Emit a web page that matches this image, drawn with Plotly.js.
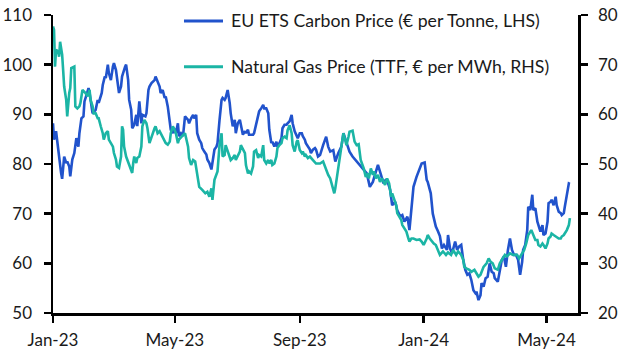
<!DOCTYPE html>
<html>
<head>
<meta charset="utf-8">
<script src="https://cdn.plot.ly/plotly-3.0.1.min.js"></script>
<style>html,body{margin:0;padding:0;background:#fff;}#chart{width:635px;height:361px;}</style>
</head>
<body>
<div id="chart"></div>
<script>
// Days since 2023-01-01 and values
const carbonDays = [0,1,3,5,8,9,11,13,14,16,17,19,21,23,25,26,28,30,31,33,35,36,38,39,42,44,45,48,49,51,
  52,54,55,57,59,60,62,63,65,67,68,71,72,74,75,77,78,80,82,83,85,87,88,91,92,94,95,97,100,101,
  103,105,106,108,110,111,113,115,116,118,119,121,123,124,126,128,130,133,134,136,138,139,141,142,144,146,147,149,151,152,
  154,156,157,159,161,162,164,166,167,169,170,172,174,175,177,179,180,182,184,185,187,189,190,192,193,195,197,198,200,202,
  203,205,207,208,210,212,213,215,216,218,220,221,223,225,226,228,230,231,233,235,236,238,240,241,243,245,246,248,249,251,
  253,254,256,258,259,261,263,266,269,271,273,276,278,281,284,286,289,292,295,299,302,305,309,312,315,317,320,323,325,328,
  330,332,334,337,339,342,344,346,349,351,353,355,358,361,363,366,368,369,372,374,377,379,381,383,385,388,389,391,393,396,
  398,400,402,404,406,408,410,412,414,416,417,419,421,422,424,426,428,430,432,434,435,438,440,442,444,446,448,450,452,454,
  456,458,460,462,463,465,467,468,470,472,473,475,477,478,480,482,483,485,487,488,490,491,493,495,496,498,500,501,503,504,
  506,508,509];
const carbonPrice = [88.2,84.9,86.6,82.9,78.2,77.0,81.5,80.2,80.5,79.5,77.5,80.9,82.2,85.2,83.5,86.2,89.2,89.6,92.6,93.9,95.3,94.3,91.9,90.2,90.9,92.9,92.3,94.3,95.9,97.6,
  97.3,100,98.3,96.9,99.6,100.3,98.9,96.9,94.3,95.6,97.6,99.6,100,96.9,92.9,90.9,87.2,87.9,89.9,87.6,92.6,88.2,89.9,89.6,90.2,94.9,95.6,96.3,96.9,97.6,
  96.6,95.6,94.3,94.9,93.3,93.6,91.6,88.2,86.9,86.2,87.2,86.2,88.2,85.6,86.2,85.6,89.6,88.9,88.2,89.2,89.9,89.2,89.9,86.2,84.9,84.2,83.2,82.5,81.9,80.9,
  80.2,78.9,80.2,82.9,83.5,84.2,88.9,92.9,93.3,92.9,93.3,94.9,92.3,90.2,87.6,88.9,86.2,88.2,88.9,87.6,85.9,86.6,86.2,86.9,85.9,85.9,85.9,86.2,88.2,89.6,
  90.6,91.2,91.9,91.2,91.2,90.2,86.9,84.2,84.5,83.5,84.5,83.5,84.2,85.2,87.2,87.9,87.9,88.2,88.6,89.9,88.2,86.6,85.6,85.2,86.2,86.2,85.6,84.9,84.2,83.5,
  82.9,82.2,82.9,83.2,82.9,81.5,81.8,83.8,85.5,83.5,82.5,82.8,80.5,82.2,83.5,86.2,84.2,82.5,81.5,80.5,79.8,79.1,78.1,75.4,76.4,77.8,79.8,77.8,76.4,76.8,
  76.1,74.8,71.7,72.4,70.7,69.4,69.7,68.4,69.4,66.7,70.7,75.4,77.4,78.8,80.1,80.3,76.8,76.4,74.1,70.0,67.4,66.5,65.5,63.0,63.7,62.7,65.7,63.0,62.0,64.4,
  62.7,63.4,63.7,60.7,58.7,57.7,58.0,56.6,54.6,54.0,54.3,52.6,53.6,56.0,55.3,57.0,57.3,60.0,58.3,58.0,57.0,56.3,59.0,60.7,61.4,59.3,62.7,65.0,62.7,61.7,
  61.7,60.7,57.7,60.3,62.7,63.7,66.7,71.4,70.7,73.8,70.7,71.1,68.4,67.7,66.4,67.7,65.7,66.0,68.4,72.1,72.4,72.8,71.7,73.4,71.7,70.4,70.1,69.7,70.1,71.4,
  74.1,76.1,76.0];

const gasDays = [0,1,2,3,5,6,7,9,10,11,13,14,16,17,18,20,21,22,24,26,27,29,31,32,34,36,37,39,40,42,
  44,45,47,49,50,52,54,55,57,59,60,62,63,65,67,68,69,70,72,73,75,77,78,79,80,82,83,85,87,88,
  90,92,93,95,96,98,100,101,103,105,106,108,110,111,113,115,116,118,119,121,123,124,128,130,133,134,136,138,140,142,
  144,147,150,152,154,156,157,159,161,162,164,166,167,169,170,172,174,175,177,179,180,182,184,185,187,189,190,192,193,195,
  197,198,200,202,203,205,207,208,210,212,213,215,216,218,220,221,223,225,226,228,230,231,233,235,236,238,240,241,243,245,
  246,248,249,251,253,254,256,259,263,266,269,271,273,275,277,278,280,282,284,286,287,289,291,292,295,297,299,301,303,305,
  306,308,310,311,313,315,316,318,320,322,324,327,329,331,333,334,336,338,339,341,343,344,346,348,350,351,353,355,358,361,
  363,365,368,369,371,373,375,377,379,381,384,387,389,392,394,397,399,402,404,405,407,410,412,415,417,419,421,422,424,427,
  429,431,433,435,438,440,443,445,447,450,453,455,457,459,462,464,466,468,471,473,475,477,478,480,482,483,485,487,488,490,
  491,493,495,496,498,500,501,503,504,506,508,509];
const gasPrice = [77.7,77.0,69.6,73.0,72.6,71.6,74.6,72.0,68.9,65.6,62.9,59.6,64.3,65.3,69.3,69.6,69.6,61.6,61.2,61.6,62.3,64.9,64.6,64.3,63.6,64.9,62.9,61.6,60.2,60.2,
  59.2,59.2,57.6,56.2,54.9,56.2,56.6,54.9,54.2,53.5,52.2,50.9,49.5,49.2,51.5,57.6,56.9,53.5,51.5,50.9,49.9,48.5,48.2,50.2,51.5,50.2,51.2,51.5,53.5,57.6,
  58.9,58.2,57.2,54.2,54.9,56.2,57.2,57.6,56.2,56.6,56.2,55.2,54.5,54.2,53.9,54.5,56.2,57.6,57.2,56.2,54.2,54.9,55.8,56.2,53.5,51.2,49.8,50.8,50.5,47.8,
  45.4,44.8,44.1,44.4,43.4,45.1,42.8,46.8,47.8,48.5,53.8,56.2,51.5,51.8,53.8,52.5,51.2,50.8,51.2,51.8,50.8,51.8,52.5,53.8,52.8,52.2,49.8,48.1,48.5,48.1,
  49.5,52.5,52.8,51.2,51.8,51.5,53.8,50.8,50.1,50.8,50.1,50.8,49.8,50.1,51.5,53.2,53.8,54.2,55.2,55.5,55.2,56.8,57.8,56.2,53.8,52.5,54.5,54.8,52.8,52.2,
  52.5,51.5,51.8,51.2,51.5,51.2,50.8,50.1,50.1,50.5,48.8,47.8,47.1,45.4,44.1,45.1,48.1,51.5,53.5,56.2,55.2,53.8,55.5,56.5,56.7,54.5,53.8,54.0,50.8,49.8,
  49.1,47.4,48.1,47.1,49.1,47.8,48.5,47.1,47.8,46.4,47.1,45.8,47.1,46.1,43.4,44.1,42.8,41.7,40.1,39.4,38.7,37.7,37.1,36.4,35.0,34.4,35.0,35.0,34.7,34.8,
  34.4,33.7,35.0,35.7,35.0,34.4,34.0,33.7,32.7,31.7,32.4,31.7,32.2,31.7,32.7,31.7,32.4,31.7,30.7,29.3,29.0,28.7,28.3,28.7,28.0,27.3,27.7,28.3,29.3,30.0,
  31.0,30.3,30.0,29.0,28.7,30.0,31.0,31.7,31.4,32.0,31.7,31.7,31.7,31.0,32.0,32.7,34.0,35.7,36.7,35.7,34.7,34.7,33.7,33.4,34.0,33.7,33.0,34.0,35.0,35.4,
  36.0,35.7,35.4,35.4,35.0,35.0,35.4,35.7,36.0,36.7,37.7,39.1];

const legendLabels = ["EU ETS Carbon Price (€ per Tonne, LHS)", "Natural Gas Price (TTF, € per MWh, RHS)"];
const colors = ["#2153cc", "#1bb5a5"];

const base = Date.UTC(2023, 0, 1);
const toDate = d => new Date(base + d * 86400000).toISOString().slice(0, 10);

const FONT = "Lato, 'Open Sans', sans-serif";

const traces = [
  {x: carbonDays.map(toDate), y: carbonPrice, type: "scatter", mode: "lines",
   line: {color: colors[0], width: 2.6}, yaxis: "y", name: legendLabels[0]},
  {x: gasDays.map(toDate), y: gasPrice, type: "scatter", mode: "lines",
   line: {color: colors[1], width: 2.6}, yaxis: "y2", name: legendLabels[1]}
];

const legY = [0.98, 0.826];
const shapes = [], annotations = [];
for (let i = 0; i < 2; i++) {
  shapes.push({type: "line", xref: "paper", yref: "paper", x0: 0.2495, x1: 0.3238, y0: legY[i], y1: legY[i],
    line: {color: colors[i], width: 3}});
  annotations.push({xref: "paper", yref: "paper", x: 0.335, y: legY[i], xanchor: "left", yanchor: "middle",
    text: legendLabels[i], showarrow: false, font: {family: FONT, size: 17.7, color: "#1a1a1a"}});
}

const axisCommon = {showline: true, linecolor: "#000", linewidth: 2.5, ticks: "outside", ticklen: 7,
  tickwidth: 2.5, tickcolor: "#000", showgrid: false, zeroline: false,
  tickfont: {family: FONT, size: 17, color: "#1a1a1a"}};

const layout = {
  width: 635, height: 361,
  margin: {l: 53, r: 57, t: 15, b: 48, pad: 0},
  paper_bgcolor: "#fff", plot_bgcolor: "#fff",
  showlegend: false,
  xaxis: Object.assign({}, axisCommon, {type: "date", range: ["2023-01-01", "2024-06-01"],
    tick0: "2023-01-01", dtick: "M4", tickformat: "%b-%y", ticklabelstandoff: 3}),
  yaxis: Object.assign({}, axisCommon, {range: [50, 110], dtick: 10, ticklabelstandoff: 8}),
  yaxis2: Object.assign({}, axisCommon, {range: [20, 80], dtick: 10, overlaying: "y", side: "right",
    ticklabelstandoff: 7}),
  shapes: shapes, annotations: annotations
};

Plotly.newPlot("chart", traces, layout, {displayModeBar: false, staticPlot: true});
</script>
</body>
</html>
